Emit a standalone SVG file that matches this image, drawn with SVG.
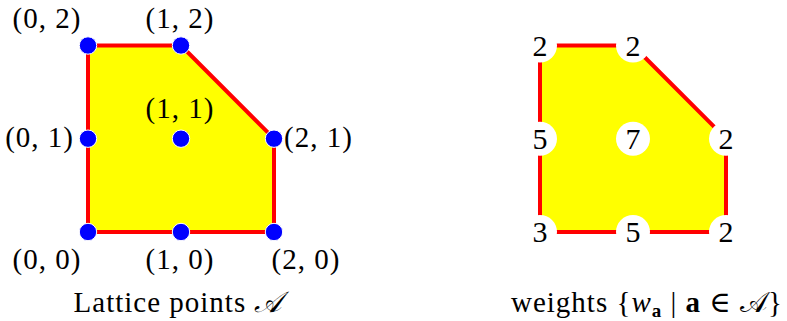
<svg xmlns="http://www.w3.org/2000/svg" width="787" height="321" viewBox="0 0 787 321">
<style>
.poly{fill:#ffff00;stroke:none}
.edge{fill:none;stroke:#ff0000;stroke-width:4;stroke-linejoin:round}
.dot{fill:#0000ff;stroke:#ffffff;stroke-width:1}
.hole{fill:#ffffff}
text{font-family:"Liberation Serif","DejaVu Serif",serif;font-size:29px;fill:#000;letter-spacing:1px}
.c{text-anchor:middle}
.w{text-anchor:middle;font-size:30px;letter-spacing:0}
</style>
<rect width="787" height="321" fill="#fff"/>
<g id="left-polygon">
<polygon class="poly" points="88,45.5 181,45.5 274,138.7 274,232 88,232"/>
</g>
<g id="connectors">
<polygon class="edge" points="88,45.5 181,45.5 274,138.7 274,232 88,232"/>
<polygon class="edge" points="540,45.5 633,45.5 726,138.7 726,232 540,232" style="fill:#ffff00"/>
</g>
<g id="p00"><circle class="dot" cx="88" cy="232" r="8.7"/><text class="c" x="47" y="269">(0, 0)</text></g>
<g id="p10"><circle class="dot" cx="181" cy="232" r="8.7"/><text class="c" x="180" y="269">(1, 0)</text></g>
<g id="p20"><circle class="dot" cx="274" cy="232" r="8.7"/><text class="c" x="306" y="269">(2, 0)</text></g>
<g id="p01"><circle class="dot" cx="88" cy="138.7" r="8.7"/><text x="74" y="147" text-anchor="end">(0, 1)</text></g>
<g id="p11"><circle class="dot" cx="181" cy="138.7" r="8.7"/><text class="c" x="180" y="118">(1, 1)</text></g>
<g id="p21"><circle class="dot" cx="274" cy="138.7" r="8.7"/><text x="284" y="147">(2, 1)</text></g>
<g id="p02"><circle class="dot" cx="88" cy="45.5" r="8.7"/><text class="c" x="47" y="28">(0, 2)</text></g>
<g id="p12"><circle class="dot" cx="181" cy="45.5" r="8.7"/><text class="c" x="180" y="28">(1, 2)</text></g>
<g id="caption-left"><text class="c" x="178" y="312">Lattice points <tspan font-style="italic">𝒜</tspan></text></g>
<g id="w00"><circle class="hole" cx="540" cy="232" r="17"/><text class="w" x="540" y="242">3</text></g>
<g id="w10"><circle class="hole" cx="633" cy="232" r="17"/><text class="w" x="633" y="242">5</text></g>
<g id="w20"><circle class="hole" cx="726" cy="232" r="17"/><text class="w" x="726" y="242">2</text></g>
<g id="w01"><circle class="hole" cx="540" cy="138.7" r="17"/><text class="w" x="540" y="149">5</text></g>
<g id="w11"><circle class="hole" cx="633" cy="138.7" r="17"/><text class="w" x="633" y="149">7</text></g>
<g id="w21"><circle class="hole" cx="726" cy="138.7" r="17"/><text class="w" x="726" y="149">2</text></g>
<g id="w02"><circle class="hole" cx="540" cy="45.5" r="17"/><text class="w" x="540" y="56">2</text></g>
<g id="w12"><circle class="hole" cx="633" cy="45.5" r="17"/><text class="w" x="633" y="56">2</text></g>
<g id="caption-right"><text x="511" y="312">weights {<tspan font-style="italic">w</tspan><tspan font-weight="bold" font-size="19" dy="5">a</tspan><tspan dy="-5"> | </tspan><tspan font-weight="bold">a</tspan> ∈ <tspan>𝒜</tspan>}</text></g>
</svg>
